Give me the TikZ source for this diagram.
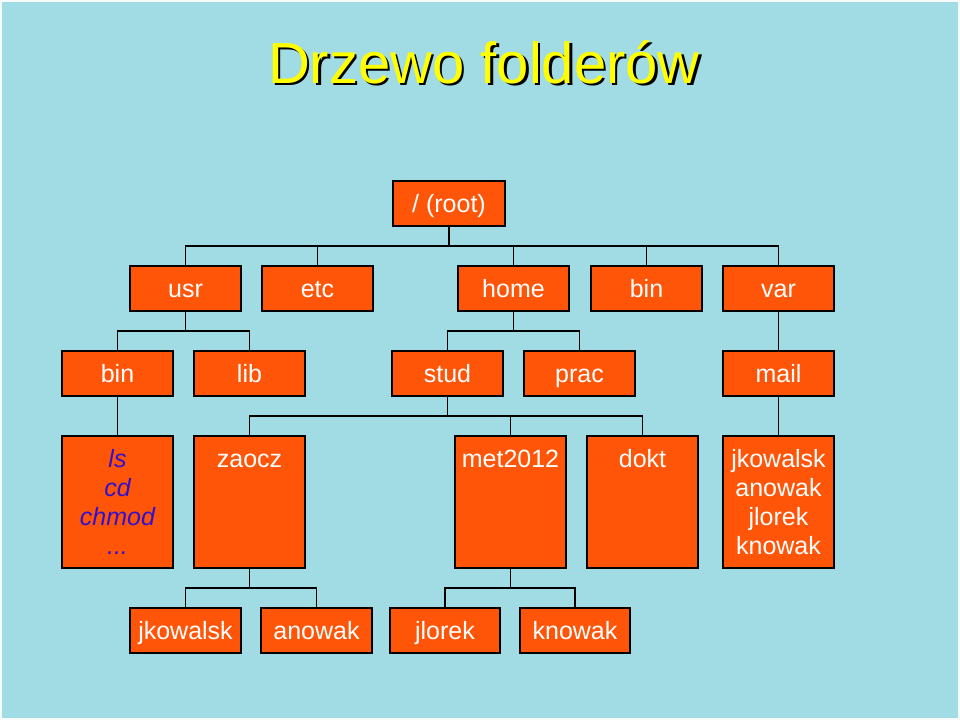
\documentclass[tikz,border=0pt]{standalone}
\usepackage{fontspec}
\setmainfont{Liberation Sans}
\definecolor{bgc}{HTML}{A1DCE4}
\definecolor{boxc}{HTML}{FF5508}
\definecolor{cmdc}{HTML}{3311CC}
\definecolor{titc}{HTML}{FFFF00}
\begin{document}
\begin{tikzpicture}[x=1pt,y=-1pt,
  box/.style={draw=black,line width=1.5pt,fill=boxc,minimum width=111pt,minimum height=45pt,inner sep=0pt,text=white,font=\fontsize{25}{29}\selectfont,text height=20pt,text depth=3pt},
  tall/.style={draw=black,line width=1.5pt,fill=boxc,minimum width=111pt,minimum height=132pt,inner sep=0pt,text=white,font=\fontsize{25}{29}\selectfont,align=center},
  txt/.style={inner sep=0pt,text=white,font=\fontsize{25}{29}\selectfont,anchor=base},
  conn/.style={line width=1.5pt,draw=black}]
\fill[white!90!bgc] (0,0) rectangle (960,720);
\fill[bgc] (2,2) rectangle (958,718);
\useasboundingbox (0,0) rectangle (960,720);
% title
\node[anchor=base,inner sep=0pt,text=black,font=\fontsize{58}{60}\selectfont] (titsh) at (486.5,85.5) {Drzewo folderów};
\node[anchor=base,inner sep=0pt,text=titc,font=\fontsize{58}{60}\selectfont] (tit) at (484,83) {Drzewo folderów};
% root
\node[box,minimum width=112pt] (root) at (449,203.5) {/ (root)};
% row 1
\node[box] (usr) at (185.5,288.5) {usr};
\node[box] (etc) at (317.5,288.5) {etc};
\node[box] (home) at (513.5,288.5) {home};
\node[box] (bin) at (646.5,288.5) {bin};
\node[box] (var) at (778.5,288.5) {var};
% row 2
\node[box] (ubin) at (117.5,373.5) {bin};
\node[box] (lib) at (249.5,373.5) {lib};
\node[box] (stud) at (447.5,373.5) {stud};
\node[box] (prac) at (579.5,373.5) {prac};
\node[box] (mail) at (778.5,373.5) {mail};
% row 3
\node[tall,text=cmdc,font=\fontsize{25}{29}\selectfont\itshape] (cmds) at (117.5,502) {ls\\cd\\chmod\\...};
\node[tall] (zaocz) at (249.5,502) {};
\node[txt] (zaoczt) at (249.5,467) {zaocz};
\node[tall] (met) at (510.5,502) {};
\node[txt] (mett) at (510.5,467) {met2012};
\node[tall] (dokt) at (642.5,502) {};
\node[txt] (doktt) at (642.5,467) {dokt};
\node[tall] (users) at (778.5,502) {jkowalsk\\anowak\\jlorek\\knowak};
% row 4
\node[box] (jk) at (185.5,630.5) {jkowalsk};
\node[box] (an) at (316.5,630.5) {anowak};
\node[box,minimum width=110pt] (jl) at (445,630.5) {jlorek};
\node[box,minimum width=110pt] (kn) at (575,630.5) {knowak};
% connectors
\coordinate (j0) at (449,246);
\draw[conn] (root.south) -- (j0);
\draw[conn] (j0) -| (usr.north);
\draw[conn] (j0) -| (etc.north);
\draw[conn] (j0) -| (home.north);
\draw[conn] (j0) -| (bin.north);
\draw[conn] (j0) -| (var.north);
\coordinate (j1) at (185.5,331);
\draw[conn] (usr.south) -- (j1);
\draw[conn] (j1) -| (ubin.north);
\draw[conn] (j1) -| (lib.north);
\coordinate (j2) at (513.5,331);
\draw[conn] (home.south) -- (j2);
\draw[conn] (j2) -| (stud.north);
\draw[conn] (j2) -| (prac.north);
\draw[conn] (var.south) -- (mail.north);
\draw[conn] (ubin.south) -- (cmds.north);
\draw[conn] (mail.south) -- (users.north);
\coordinate (j3) at (447.5,416);
\draw[conn] (stud.south) -- (j3);
\draw[conn] (j3) -| (zaocz.north);
\draw[conn] (j3) -| (met.north);
\draw[conn] (j3) -| (dokt.north);
\coordinate (j4) at (249.5,588);
\draw[conn] (zaocz.south) -- (j4);
\draw[conn] (j4) -| (jk.north);
\draw[conn] (j4) -| (an.north);
\coordinate (j5) at (510.5,588);
\draw[conn] (met.south) -- (j5);
\draw[conn] (j5) -| (jl.north);
\draw[conn] (j5) -| (kn.north);
\end{tikzpicture}
\end{document}
